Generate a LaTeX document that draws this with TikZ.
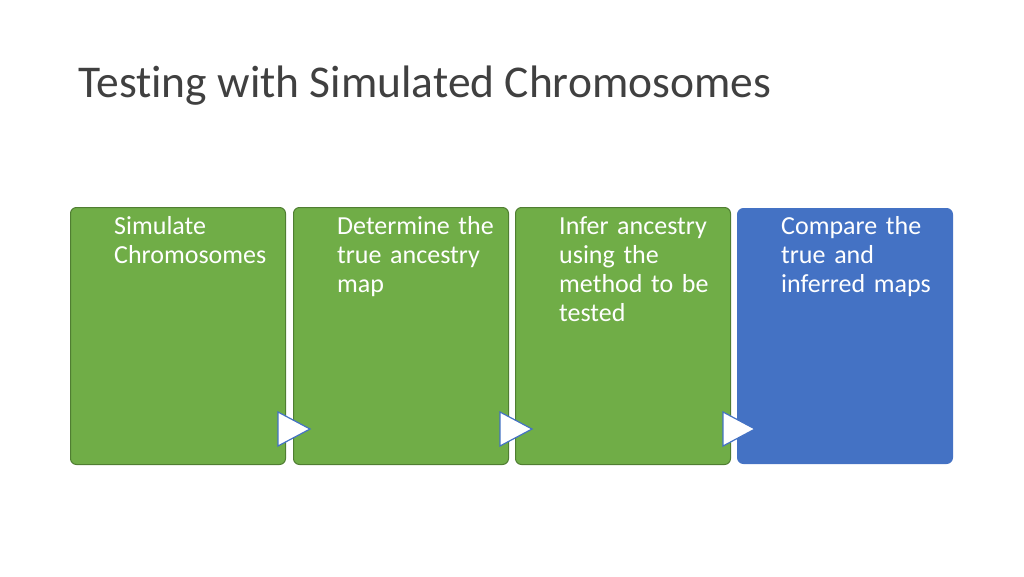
\documentclass[tikz,border=0pt]{standalone}
\usepackage{fontspec}
\setmainfont{Carlito}[Ligatures=NoCommon]
\definecolor{gfill}{HTML}{70AD47}
\definecolor{gdraw}{HTML}{507E32}
\definecolor{bfill}{HTML}{4472C4}
\definecolor{bdraw}{HTML}{4472C4}
\definecolor{tcol}{HTML}{404040}
\begin{document}
\begin{tikzpicture}[x=1pt,y=-1pt,
  card/.style={rounded corners=6pt, line width=1pt, minimum width=215pt, minimum height=257pt, inner sep=0pt},
  lbl/.style={anchor=north west, text width=190pt, align=left, font=\fontsize{26}{29.3}\selectfont, text=white, inner sep=0pt},
  tri/.style={fill=white, draw=bfill, line width=1.2pt}]
\useasboundingbox (0,0) rectangle (1024,576);
\node[anchor=west, text=tcol, font=\fontsize{45.5}{52}\selectfont, inner sep=0pt] (title) at (78,86) {Testing with Simulated Chromosomes};
\node[card, fill=gfill, draw=gdraw] (b1) at (178,336) {};
\node[card, fill=gfill, draw=gdraw] (b2) at (401,336) {};
\node[card, fill=gfill, draw=gdraw] (b3) at (623,336) {};
\node[card, fill=bfill, draw=bdraw, minimum height=255pt] (b4) at (845,336) {};
\node[lbl] (t1) at (114,216) {\raggedright Simulate\\Chromosomes};
\node[lbl] (t2) at (337,216) {\raggedright Determine the\\true ancestry\\map};
\node[lbl] (t3) at (559,216) {\raggedright Infer ancestry\\using the\\method to be\\tested};
\node[lbl] (t4) at (781,216) {\raggedright Compare the\\true and\\inferred maps};
\foreach \x/\n in {278/a1,500/a2,723/a3}{
  \draw[tri] (\x,412) -- (\x+32,429) -- (\x,446) -- cycle;
}
\end{tikzpicture}
\end{document}
